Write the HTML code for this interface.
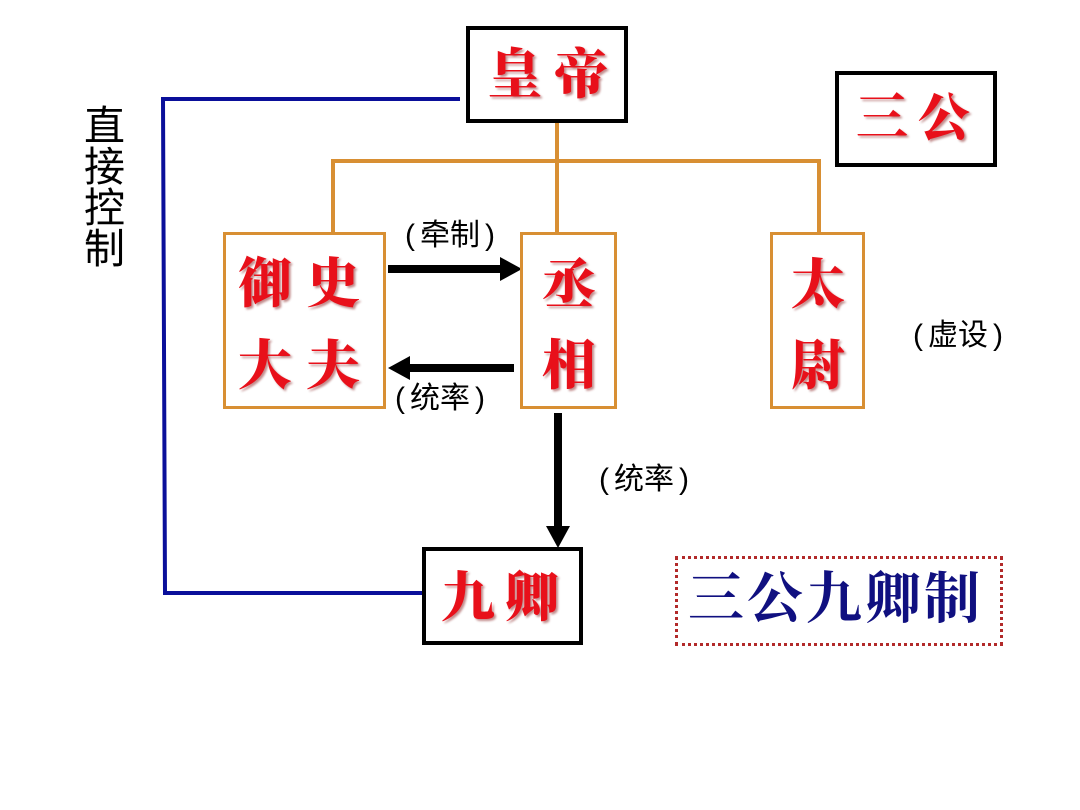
<!DOCTYPE html>
<html><head><meta charset="utf-8">
<style>
html,body{margin:0;padding:0;background:#fff;}
body{width:1080px;height:810px;position:relative;overflow:hidden;}
.box{position:absolute;box-sizing:border-box;background:#fff;}
.blk{border:4px solid #000;}
.org{border:3px solid #d88f33;}
.red{position:absolute;font-family:"Liberation Serif","Noto Serif CJK SC",serif;font-weight:900;color:#e8101a;text-shadow:2px 2px 2px rgba(120,0,0,0.45);line-height:1;white-space:nowrap;}
.lbl{position:absolute;font-family:"Liberation Sans","Noto Sans CJK SC",sans-serif;color:#000;font-size:30px;line-height:1;white-space:nowrap;}
.lbl .l{margin-right:5px;}
.lbl .r{margin-left:5px;}
svg{position:absolute;left:0;top:0;}
</style></head><body>
<svg width="1080" height="810">
<g stroke="#d88f33" stroke-width="4" fill="none">
<polyline points="333,233 333,161 819,161 819,233"/>
<line x1="557" y1="122" x2="557" y2="233"/>
</g>
<polyline points="460,99 163,99 165,593 428,593" stroke="#0a0f9a" stroke-width="4" fill="none"/>
<line x1="388" y1="269" x2="502" y2="269" stroke="#000" stroke-width="8"/>
<polygon points="500,257 522,269 500,281" fill="#000"/>
<line x1="514" y1="368" x2="408" y2="368" stroke="#000" stroke-width="8"/>
<polygon points="410,356 388,368 410,380" fill="#000"/>
<line x1="558" y1="413" x2="558" y2="528" stroke="#000" stroke-width="8"/>
<polygon points="546,526 558,548 570,526" fill="#000"/>
</svg>

<div class="box blk" style="left:466px;top:26px;width:162px;height:97px;"></div>
<div class="red" style="left:488px;top:48px;font-size:54px;letter-spacing:12px;">皇帝</div>

<div class="box blk" style="left:835px;top:71px;width:162px;height:96px;"></div>
<div class="red" style="left:856px;top:94px;font-size:52px;letter-spacing:10px;">三公</div>

<div class="box org" style="left:223px;top:232px;width:163px;height:177px;"></div>
<div class="red" style="left:238px;top:257px;font-size:54px;letter-spacing:14px;">御史</div>
<div class="red" style="left:238px;top:339px;font-size:54px;letter-spacing:14px;">大夫</div>

<div class="box org" style="left:520px;top:232px;width:97px;height:177px;"></div>
<div class="red" style="left:542px;top:258px;font-size:54px;">丞</div>
<div class="red" style="left:542px;top:339px;font-size:54px;">相</div>

<div class="box org" style="left:770px;top:232px;width:95px;height:177px;"></div>
<div class="red" style="left:791px;top:258px;font-size:54px;">太</div>
<div class="red" style="left:791px;top:339px;font-size:54px;">尉</div>

<div class="box blk" style="left:422px;top:547px;width:161px;height:98px;"></div>
<div class="red" style="left:441px;top:571px;font-size:54px;letter-spacing:10px;">九卿</div>

<div class="lbl" style="left:405px;top:221px;"><span class="l">(</span>牵制<span class="r">)</span></div>
<div class="lbl" style="left:395px;top:384px;"><span class="l">(</span>统率<span class="r">)</span></div>
<div class="lbl" style="left:599px;top:465px;"><span class="l">(</span>统率<span class="r">)</span></div>
<div class="lbl" style="left:913px;top:321px;"><span class="l">(</span>虚设<span class="r">)</span></div>

<div class="lbl" style="left:84px;top:106px;font-size:41px;width:44px;line-height:41px;white-space:normal;">直接控制</div>

<div class="box" style="left:675px;top:556px;width:328px;height:90px;border:3px dotted #b22a2a;"></div>
<div style="position:absolute;left:688px;top:570px;font-family:'Liberation Serif','Noto Serif CJK SC',serif;font-weight:700;font-size:56px;color:#101080;letter-spacing:3px;white-space:nowrap;line-height:1.1;">三公九卿制</div>
</body></html>
